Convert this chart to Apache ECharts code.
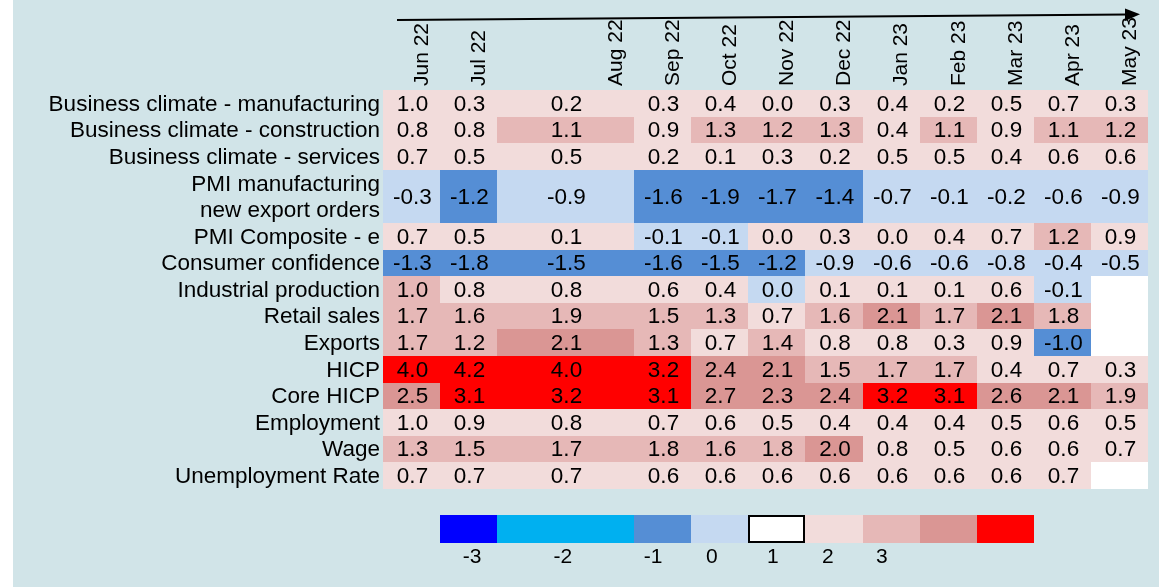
<!DOCTYPE html>
<html><head><meta charset="utf-8">
<script src="https://cdn.jsdelivr.net/npm/echarts@6/dist/echarts.min.js"></script>
<style>
html,body{margin:0;padding:0;background:#ffffff;}
#bg{position:absolute;left:13px;top:0;width:1146px;height:587px;background:#d1e4e8;}
#c{position:absolute;left:0;top:0;width:1161px;height:587px;}
</style>
</head><body><div id="bg"></div><div id="c"></div>
<script>
// ---- data ----
const columns = ['Jun 22','Jul 22','Aug 22','Sep 22','Oct 22','Nov 22','Dec 22','Jan 23','Feb 23','Mar 23','Apr 23','May 23'];
const rowLabels = ['Business climate - manufacturing','Business climate - construction','Business climate - services',
  'PMI manufacturing\nnew export orders','PMI Composite - e','Consumer confidence','Industrial production',
  'Retail sales','Exports','HICP','Core HICP','Employment','Wage','Unemployment Rate'];
const bcManufacturing = [0.98, 0.3, 0.2, 0.3, 0.4, 0.02, 0.3, 0.4, 0.2, 0.5, 0.7, 0.3];
const bcConstruction  = [0.8, 0.8, 1.1, 0.9, 1.3, 1.2, 1.3, 0.4, 1.1, 0.9, 1.1, 1.2];
const bcServices      = [0.7, 0.5, 0.5, 0.2, 0.1, 0.3, 0.2, 0.5, 0.5, 0.4, 0.6, 0.6];
const pmiExportOrders = [-0.3, -1.2, -0.9, -1.6, -1.9, -1.7, -1.4, -0.7, -0.1, -0.2, -0.6, -0.9];
const pmiComposite    = [0.7, 0.5, 0.1, -0.1, -0.1, 0.02, 0.3, 0.02, 0.4, 0.7, 1.2, 0.9];
const consumerConf    = [-1.3, -1.8, -1.5, -1.6, -1.5, -1.2, -0.9, -0.6, -0.6, -0.8, -0.4, -0.5];
const industrialProd  = [1.02, 0.8, 0.8, 0.6, 0.4, -0.02, 0.1, 0.1, 0.1, 0.6, -0.1, null];
const retailSales     = [1.7, 1.6, 1.9, 1.5, 1.3, 0.7, 1.6, 2.1, 1.7, 2.1, 1.8, null];
const exportsVals     = [1.7, 1.2, 2.1, 1.3, 0.7, 1.4, 0.8, 0.8, 0.3, 0.9, -1.02, null];
const hicp            = [4.0, 4.2, 4.0, 3.2, 2.4, 2.1, 1.5, 1.7, 1.7, 0.4, 0.7, 0.3];
const coreHicp        = [2.5, 3.1, 3.2, 3.1, 2.7, 2.3, 2.4, 3.2, 3.1, 2.6, 2.1, 1.9];
const employment      = [0.98, 0.9, 0.8, 0.7, 0.6, 0.5, 0.4, 0.4, 0.4, 0.5, 0.6, 0.5];
const wage            = [1.3, 1.5, 1.7, 1.8, 1.6, 1.8, 2.02, 0.8, 0.5, 0.6, 0.6, 0.7];
const unemployment    = [0.7, 0.7, 0.7, 0.6, 0.6, 0.6, 0.6, 0.6, 0.6, 0.6, 0.7, null];
const rowValues = [bcManufacturing, bcConstruction, bcServices, pmiExportOrders, pmiComposite, consumerConf,
  industrialProd, retailSales, exportsVals, hicp, coreHicp, employment, wage, unemployment];
const legendValues = [-3.5, -2.5, -1.5, -0.5, 0, 0.5, 1.5, 2.5, 3.5];
const legendTicks = ['-3','-2','-1','0','1','2','3'];

// ---- layout ----
const colSpan = [1,1,2.4,1,1,1,1,1,1,1,1,1];
const rowSpan = [1,1,1,2,1,1,1,1,1,1,1,1,1,1];
const legendFirstCol = 1;
const legendTickPos = [1.56, 3.15, 4.73, 5.76, 6.83, 7.79, 8.74];
const FONT = '"Liberation Sans", Arial, sans-serif';

const colStart = []; { let s = 0; colSpan.forEach(w => { colStart.push(s); s += w; }); }
const rowStart = []; { let s = 0; rowSpan.forEach(h => { rowStart.push(s); s += h; }); }
const xMax = colSpan.reduce((a,b)=>a+b,0);
const yMax = rowSpan.reduce((a,b)=>a+b,0);

function colorFor(v){
  if (v === null || v === undefined) return '#ffffff';
  if (v >= 3) return '#ff0000';
  if (v >= 2) return '#da9694';
  if (v >= 1) return '#e6b8b7';
  if (v > 0) return '#f2dcdb';
  if (v === 0) return '#ffffff';
  if (v >= -1) return '#c5d9f1';
  if (v >= -2) return '#558ed5';
  if (v >= -3) return '#00b0f0';
  return '#0000ff';
}
function fmt(v){
  if (v === null || v === undefined) return '';
  if (Math.abs(v) < 0.05) return '0.0';
  return v.toFixed(1);
}

const cells = [];
rowValues.forEach((arr, r) => arr.forEach((v, c) => {
  cells.push([colStart[c], rowStart[r], colStart[c] + colSpan[c], rowStart[r] + rowSpan[r], v]);
}));

const chart = echarts.init(document.getElementById('c'), null, {renderer: 'canvas'});
chart.setOption({
  animation: false,
  backgroundColor: 'transparent',
  grid: [
    {left: 383, right: 13, top: 90, bottom: 98},
    {left: 383, right: 13, top: 515, height: 28}
  ],
  xAxis: [
    {type: 'value', min: 0, max: xMax, show: false, gridIndex: 0},
    {type: 'value', min: 0, max: xMax, show: false, gridIndex: 1}
  ],
  yAxis: [
    {type: 'value', min: 0, max: yMax, inverse: true, show: false, gridIndex: 0},
    {type: 'value', min: 0, max: 1, inverse: true, show: false, gridIndex: 1}
  ],
  graphic: [
    {type: 'line', shape: {x1: 397, y1: 20, x2: 1128, y2: 14.6}, style: {stroke: '#000', lineWidth: 2}},
    {type: 'polygon', shape: {points: [[1125, 8.5], [1140, 14.3], [1125, 21]]}, style: {fill: '#000'}}
  ],
  series: [
    { // cells
      type: 'custom', xAxisIndex: 0, yAxisIndex: 0,
      data: cells.map(d => [d[0], d[1], d[2], d[3]]),
      renderItem: function(params, api){
        const d = cells[params.dataIndex];
        const p0 = api.coord([d[0], d[1]]);
        const p1 = api.coord([d[2], d[3]]);
        const x0 = Math.round(p0[0]), y0 = Math.round(p0[1]);
        const x1 = Math.round(p1[0]), y1 = Math.round(p1[1]);
        return {type: 'group', children: [
          {type: 'rect', shape: {x: x0, y: y0, width: x1 - x0, height: y1 - y0}, style: {fill: colorFor(d[4])}},
          {type: 'text', x: (x0 + x1) / 2 + 1, y: (y0 + y1) / 2 + 1, style: {text: fmt(d[4]), align: 'center', verticalAlign: 'middle', fontSize: 22.5, fontFamily: FONT, fill: '#000'}}
        ]};
      }
    },
    { // row labels
      type: 'custom', xAxisIndex: 0, yAxisIndex: 0,
      data: rowLabels.map((l, r) => [0, rowStart[r] + rowSpan[r] / 2]),
      renderItem: function(params, api){
        const p = api.coord([api.value(0), api.value(1)]);
        return {type: 'text', x: p[0] - 3, y: p[1] + 1, style: {text: rowLabels[params.dataIndex], align: 'right', verticalAlign: 'middle', fontSize: 22.5, lineHeight: 26, fontFamily: FONT, fill: '#000'}};
      }
    },
    { // column labels
      type: 'custom', xAxisIndex: 0, yAxisIndex: 0,
      data: columns.map((c, i) => [colStart[i] + colSpan[i], 0]),
      renderItem: function(params, api){
        const p = api.coord([api.value(0), api.value(1)]);
        return {type: 'text', x: p[0] - 18, y: p[1] - 4, rotation: Math.PI / 2, style: {text: columns[params.dataIndex], align: 'left', verticalAlign: 'middle', fontSize: 21, fontFamily: FONT, fill: '#000'}};
      }
    },
    { // legend swatches
      type: 'custom', xAxisIndex: 1, yAxisIndex: 1,
      data: legendValues.map((v, i) => [colStart[legendFirstCol + i], colStart[legendFirstCol + i] + colSpan[legendFirstCol + i]]),
      renderItem: function(params, api){
        const v = legendValues[params.dataIndex];
        const p0 = api.coord([api.value(0), 0]);
        const p1 = api.coord([api.value(1), 1]);
        const x0 = Math.round(p0[0]), y0 = Math.round(p0[1]);
        const x1 = Math.round(p1[0]), y1 = Math.round(p1[1]);
        const isZero = v === 0;
        return {type: 'rect', shape: isZero ? {x: x0 + 1, y: y0 + 1, width: x1 - x0 - 2, height: y1 - y0 - 2} : {x: x0, y: y0, width: x1 - x0, height: y1 - y0},
          style: {fill: colorFor(v), stroke: isZero ? '#000' : null, lineWidth: isZero ? 2 : 0}};
      }
    },
    { // legend tick labels
      type: 'custom', xAxisIndex: 1, yAxisIndex: 1,
      data: legendTicks.map((t, i) => [legendTickPos[i], 1]),
      renderItem: function(params, api){
        const p = api.coord([api.value(0), api.value(1)]);
        return {type: 'text', x: p[0], y: p[1] + 14, style: {text: legendTicks[params.dataIndex], align: 'center', verticalAlign: 'middle', fontSize: 21, fontFamily: FONT, fill: '#000'}};
      }
    }
  ]
});
</script>
</body></html>
